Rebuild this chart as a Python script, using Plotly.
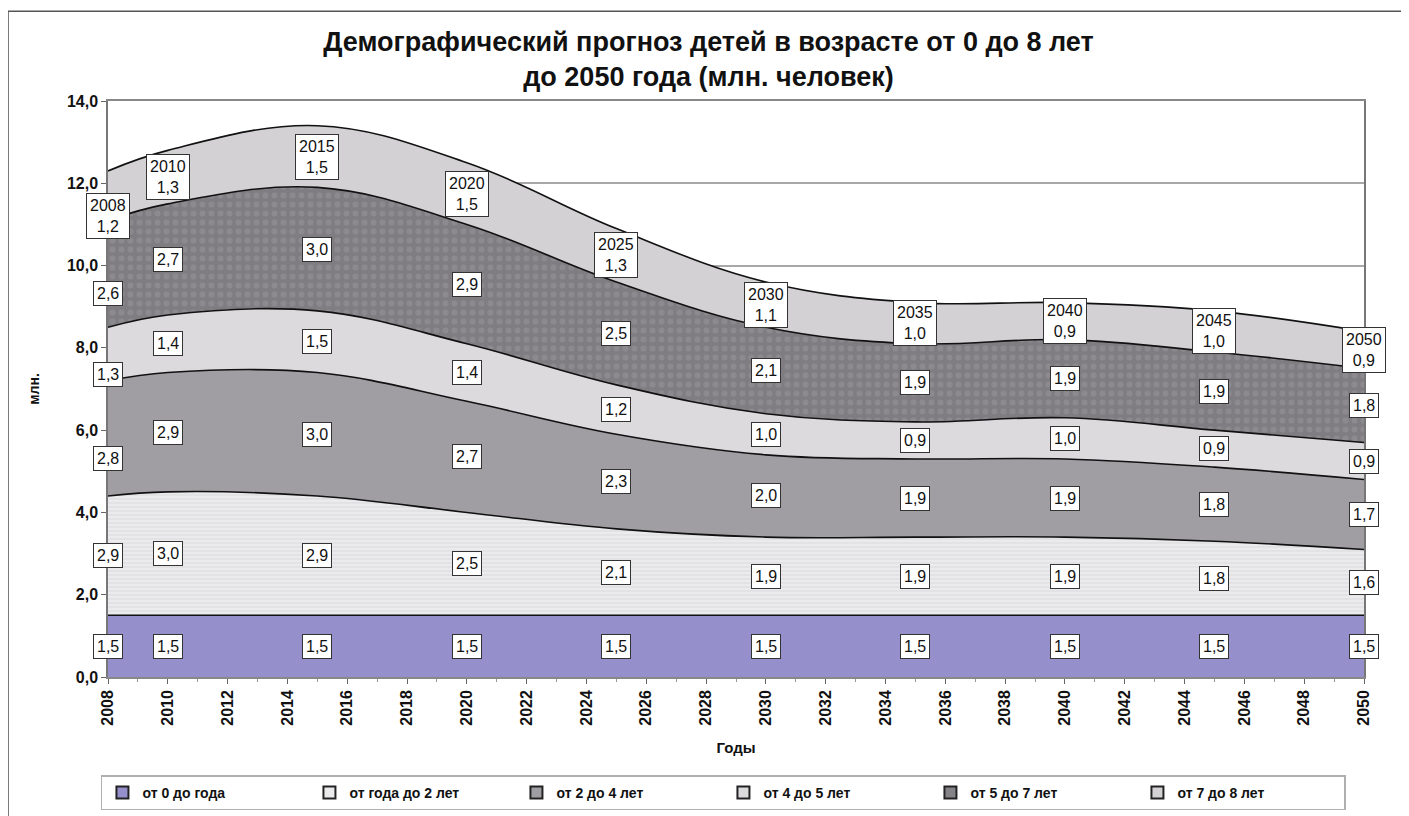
import plotly.graph_objects as go

years = [2008, 2010, 2015, 2020, 2025, 2030, 2035, 2040, 2045, 2050]
series_names = ["от 0 до года", "от года до 2 лет", "от 2 до 4 лет",
                "от 4 до 5 лет", "от 5 до 7 лет", "от 7 до 8 лет"]
age_0_1 = [1.5, 1.5, 1.5, 1.5, 1.5, 1.5, 1.5, 1.5, 1.5, 1.5]
age_1_2 = [2.9, 3.0, 2.9, 2.5, 2.1, 1.9, 1.9, 1.9, 1.8, 1.6]
age_2_4 = [2.8, 2.9, 3.0, 2.7, 2.3, 2.0, 1.9, 1.9, 1.8, 1.7]
age_4_5 = [1.3, 1.4, 1.5, 1.4, 1.2, 1.0, 0.9, 1.0, 0.9, 0.9]
age_5_7 = [2.6, 2.7, 3.0, 2.9, 2.5, 2.1, 1.9, 1.9, 1.9, 1.8]
age_7_8 = [1.2, 1.3, 1.5, 1.5, 1.3, 1.1, 1.0, 0.9, 1.0, 0.9]
all_series = [age_0_1, age_1_2, age_2_4, age_4_5, age_5_7, age_7_8]

fills = ["#958fcb", "#eaeaec", "#a09ea2", "#dcdadd", "#858387", "#d3d1d4"]
patterns = [None,
            dict(shape="-", fgcolor="#cfcfd3", bgcolor="#ebebed", size=4, solidity=0.3),
            None, None,
            dict(shape=".", fgcolor="#9a989c", bgcolor="#7f7d81", size=9, solidity=0.35),
            None]

FONT = "Liberation Sans, Arial, sans-serif"

fig = go.Figure()
for name, vals, col, pat in zip(series_names, all_series, fills, patterns):
    kw = dict(x=years, y=vals, name=name, mode="lines", stackgroup="one",
              line=dict(color="#111111", width=1.6, shape="spline", smoothing=1.1),
              fillcolor=col, showlegend=False)
    if pat is not None:
        kw["fillpattern"] = pat
    fig.add_trace(go.Scatter(**kw))

# legend-only entries with square swatches
for name, col in zip(series_names, fills):
    fig.add_trace(go.Scatter(x=[None], y=[None], mode="markers", name=name,
                             marker=dict(symbol="square", size=11, color=col,
                                         line=dict(color="#222", width=1.5)),
                             showlegend=True))

# data labels
cum = [0.0] * len(years)
annotations = []
for si, vals in enumerate(all_series):
    for i, (yr, v) in enumerate(zip(years, vals)):
        mid = cum[i] + v / 2
        txt = f"{v:.1f}".replace(".", ",")
        if si == len(all_series) - 1:
            txt = f"{yr}<br>{txt}"
        yshift = -20 if (i == 0 and si >= 2) else 0
        annotations.append(dict(x=yr, y=mid, text=txt, showarrow=False,
                                xref="x", yref="y", yshift=yshift,
                                font=dict(family=FONT, size=16, color="#111"),
                                bgcolor="white", bordercolor="#333", borderwidth=1,
                                borderpad=3))
    cum = [c + v for c, v in zip(cum, vals)]

fig.update_layout(
    width=1401, height=808,
    margin=dict(l=100, r=45, t=93, b=139, autoexpand=False),
    paper_bgcolor="white", plot_bgcolor="white",
    separators=", ",
    font=dict(family=FONT, color="#111"),
    title=dict(text="Демографический прогноз детей в возрасте от 0 до 8 лет<br>до 2050 года (млн. человек)",
               x=0.5, xanchor="center", y=0.947, yanchor="top",
               font=dict(family=FONT, size=27, color="#111", weight="bold")),
    annotations=annotations,
    showlegend=True,
    legend=dict(orientation="h", x=0.49, xanchor="center", y=-0.171, yanchor="top",
                bordercolor="#b0b0b0", borderwidth=1.5, bgcolor="white",
                entrywidth=162, traceorder="normal", itemsizing="constant",
                font=dict(family=FONT, size=14, color="#111", weight="bold")),
    shapes=[dict(type="rect", xref="paper", yref="paper",
                 x0=-0.0796, x1=1.2, y0=-0.4, y1=1.156,
                 line=dict(color="#555", width=1.5), layer="below")],
)

fig.update_xaxes(range=[2008, 2050], tickvals=list(range(2008, 2051, 2)),
                 tickangle=-90, ticks="outside", ticklen=5, tickcolor="#666",
                 minor=dict(dtick=1, ticks="outside", ticklen=3, tickcolor="#999"),
                 showgrid=False, showline=True, linecolor="#888", linewidth=1.5, mirror=True,
                 tickfont=dict(family=FONT, size=16, color="#111", weight="bold"),
                 title=dict(text="Годы", font=dict(family=FONT, size=15, color="#111", weight="bold"),
                            standoff=18))
fig.update_yaxes(range=[0, 14], dtick=2, tickformat=".1f",
                 ticks="outside", ticklen=5, tickcolor="#666",
                 showgrid=True, gridcolor="#a8a8a8", gridwidth=1.5,
                 showline=True, linecolor="#777", linewidth=1.5, mirror=True,
                 zeroline=False,
                 tickfont=dict(family=FONT, size=16, color="#111", weight="bold"),
                 title=dict(text="млн.", font=dict(family=FONT, size=14, color="#111", weight="bold"),
                            standoff=24))

fig.write_html("out.html")
